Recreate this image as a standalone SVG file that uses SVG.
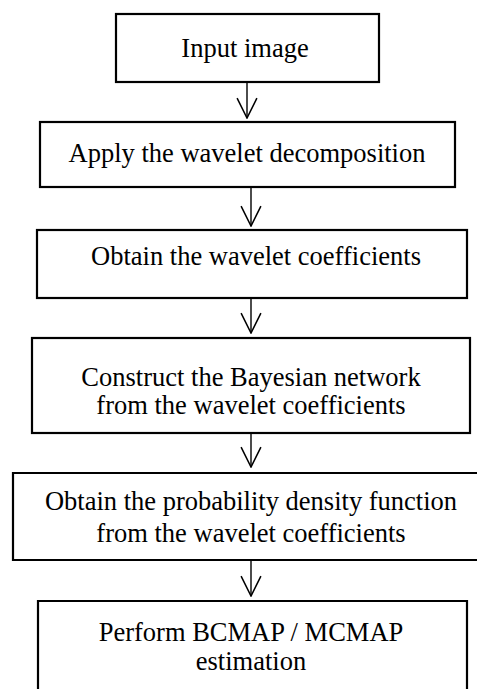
<svg xmlns="http://www.w3.org/2000/svg" width="477" height="689" viewBox="0 0 477 689">
<defs>
<style>
.box{fill:#fff;stroke:#000;stroke-width:2.2}
.t{font-family:"Liberation Serif","Times New Roman",serif;font-size:26.5px;fill:#000;text-anchor:middle}
.c{fill:none;stroke:#000;stroke-width:1.4}
</style>
<marker id="ah" markerUnits="userSpaceOnUse" markerWidth="22" markerHeight="22" refX="19" refY="10" viewBox="0 0 20 20" orient="auto">
<path d="M1,1 L19,10 L1,19" fill="none" stroke="#000" stroke-width="1.4"/>
</marker>
</defs>
<rect width="477" height="689" fill="#fff"/>
<g id="n1"><rect class="box" x="116" y="14" width="263" height="68"/><text class="t" x="245" y="57">Input image</text></g>
<g id="n2"><rect class="box" x="40" y="122" width="415" height="65"/><text class="t" x="247" y="162">Apply the wavelet decomposition</text></g>
<g id="n3"><rect class="box" x="37" y="230" width="430" height="68"/><text class="t" x="256" y="265">Obtain the wavelet coefficients</text></g>
<g id="n4"><rect class="box" x="32" y="338" width="438" height="95"/><text class="t" x="251" y="386">Construct the Bayesian network</text><text class="t" x="251" y="414">from the wavelet coefficients</text></g>
<g id="n5"><path class="box" d="M480,473 H13 V560 H480"/><text class="t" x="251" y="510">Obtain the probability density function</text><text class="t" x="251" y="542">from the wavelet coefficients</text></g>
<g id="n6"><path class="box" d="M38,692 V601 H467 V692"/><text class="t" x="251" y="641">Perform BCMAP / MCMAP</text><text class="t" x="251" y="670">estimation</text></g>
<g id="connectors">
<line class="c" x1="247" y1="82" x2="247" y2="118" marker-end="url(#ah)"/>
<line class="c" x1="251" y1="187" x2="251" y2="226" marker-end="url(#ah)"/>
<line class="c" x1="251" y1="298" x2="251" y2="333" marker-end="url(#ah)"/>
<line class="c" x1="251" y1="433" x2="251" y2="467" marker-end="url(#ah)"/>
<line class="c" x1="251" y1="560" x2="251" y2="596" marker-end="url(#ah)"/>
</g>
</svg>
